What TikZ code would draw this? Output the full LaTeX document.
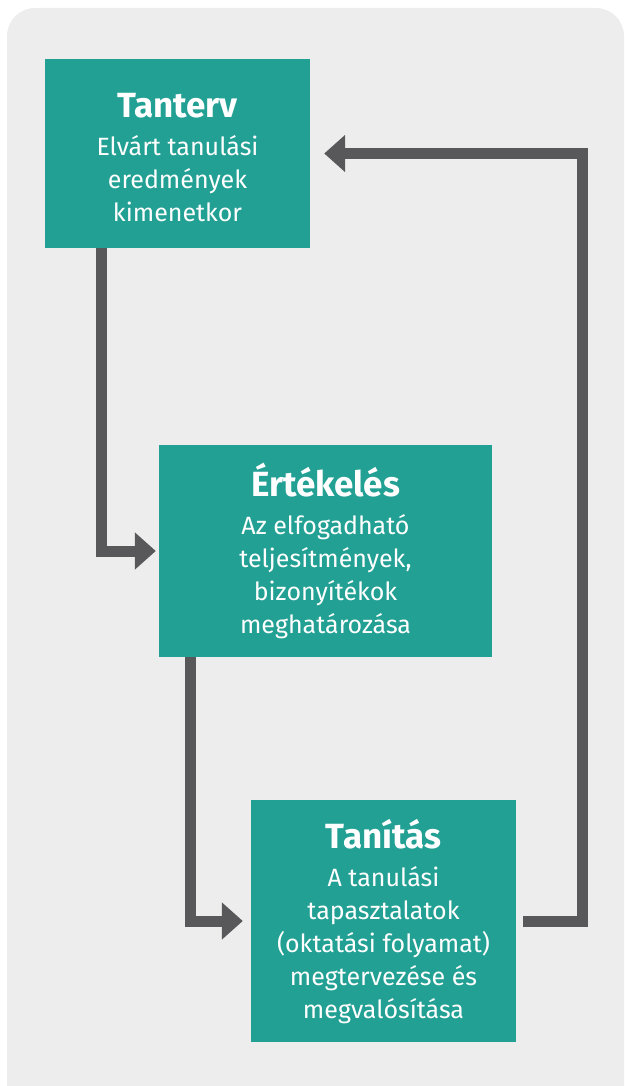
\documentclass[tikz,border=0pt]{standalone}
\usepackage{fontspec}
\setmainfont{Fira Sans}
\usetikzlibrary{arrows.meta}
\definecolor{teal1}{HTML}{22A094}
\definecolor{linegray}{HTML}{58585A}
\definecolor{bggray}{HTML}{ECEDEC}
\tikzset{
  box/.style={fill=teal1, text=white, align=center, inner sep=0pt,
    font=\fontsize{25}{33}\selectfont},
  conn/.style={draw=linegray, line width=11pt, line join=miter, line cap=butt,
    -{Triangle[width=36pt,length=21pt]}}
}
\newcommand{\boxtitle}[1]{{\fontsize{35}{33}\selectfont\bfseries #1}\\[5pt]}
\begin{document}
\begin{tikzpicture}[x=1pt,y=-1pt]
\useasboundingbox (0,0) rectangle (624,1086);
\fill[bggray, rounded corners=28pt] (7,8) rectangle (624,1120);
\node[box, minimum width=265pt, minimum height=189pt] (tanterv) at (177.5,153.5)
  {\boxtitle{\rule{0pt}{33pt}Tanterv}Elvárt tanulási\\eredmények\\kimenetkor};
\node[box, minimum width=333pt, minimum height=212pt] (ertekeles) at (325.5,551)
  {\boxtitle{\rule{0pt}{32pt}Értékelés}Az elfogadható\\teljesítmények,\\bizonyítékok\\meghatározása};
\node[box, minimum width=265pt, minimum height=242pt] (tanitas) at (383.5,921)
  {\boxtitle{\rule{0pt}{30pt}Tanítás}A tanulási\\tapasztalatok\\(oktatási folyamat)\\megtervezése és\\megvalósítása};
\coordinate (c1) at (101.5,0);
\coordinate (c2) at (190,0);
\coordinate (c3) at (582,0);
\draw[conn, shorten >=3pt] (tanterv.south -| c1) |- (ertekeles.west);
\draw[conn, shorten >=8pt] (ertekeles.south -| c2) |- (tanitas.west);
\draw[conn, shorten >=14pt] ([xshift=7pt]tanitas.east) -| (c3 |- tanterv.east) -- (tanterv.east);
\end{tikzpicture}
\end{document}
